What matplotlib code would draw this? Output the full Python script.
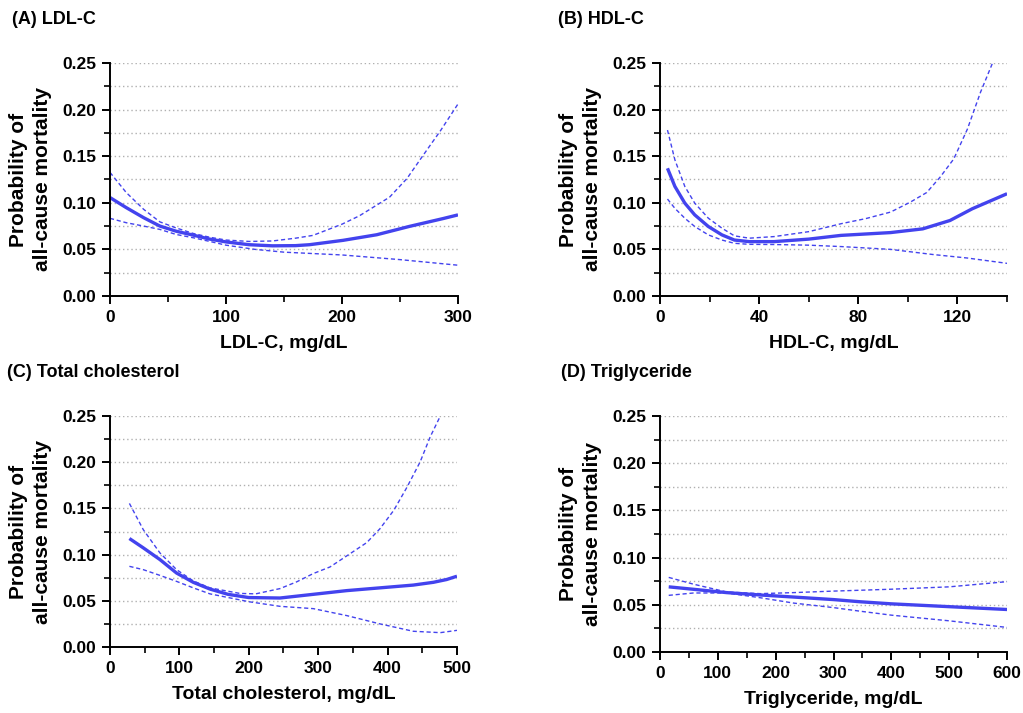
import matplotlib
matplotlib.use("Agg")
import matplotlib.pyplot as plt
from matplotlib.ticker import MultipleLocator

plt.rcParams["font.family"] = ["Liberation Sans", "DejaVu Sans"]
plt.rcParams["font.weight"] = "bold"

BLUE = "#4343ee"

# (A) LDL-C
ldl_fit_x = [0, 14, 29, 43, 57, 72, 86, 100, 120, 140, 160, 172, 201, 230, 258, 287, 300]
ldl_fit = [0.1056, 0.0948, 0.084, 0.075, 0.0695, 0.0652, 0.061, 0.058, 0.055, 0.0538, 0.054, 0.055, 0.0597, 0.0657, 0.0746, 0.083, 0.087]
ldl_up_x = [0, 14, 29, 43, 57, 72, 86, 100, 120, 140, 160, 175, 200, 215, 241, 256, 270, 285, 300]
ldl_up = [0.1326, 0.111, 0.093, 0.0795, 0.073, 0.067, 0.063, 0.060, 0.0585, 0.059, 0.062, 0.065, 0.077, 0.086, 0.106, 0.126, 0.151, 0.1775, 0.206]
ldl_lo_x = [0, 14, 29, 43, 57, 72, 86, 100, 125, 150, 175, 200, 225, 250, 275, 300]
ldl_lo = [0.0833, 0.0786, 0.075, 0.0714, 0.066, 0.0624, 0.0585, 0.0545, 0.050, 0.047, 0.0455, 0.044, 0.0415, 0.039, 0.036, 0.033]

# (B) HDL-C
hdl_fit_x = [3, 6, 10, 14, 19.5, 25, 30, 36, 46, 60, 73, 93, 106, 117, 126, 140]
hdl_fit = [0.137, 0.1175, 0.0996, 0.087, 0.0745, 0.0655, 0.060, 0.0583, 0.0583, 0.061, 0.065, 0.068, 0.072, 0.081, 0.0936, 0.1097]
hdl_up_x = [3, 6, 10, 14, 19.5, 25, 30, 36, 46, 60, 73, 83, 93, 101, 107.6, 113, 118.5, 124, 129.3, 134]
hdl_up = [0.178, 0.146, 0.1175, 0.0996, 0.0834, 0.0727, 0.0645, 0.062, 0.0637, 0.069, 0.0775, 0.083, 0.090, 0.1007, 0.111, 0.1275, 0.147, 0.179, 0.2186, 0.249]
hdl_lo_x = [3, 6, 10, 14, 19.5, 25, 30, 36, 46, 60, 73, 93, 110, 124, 140]
hdl_lo = [0.104, 0.094, 0.0834, 0.0745, 0.0655, 0.060, 0.0565, 0.0554, 0.0552, 0.0545, 0.053, 0.050, 0.0445, 0.0407, 0.035]

# (C) Total cholesterol
tc_fit_x = [28, 48, 72, 96, 120, 144, 170, 200, 245, 293, 341, 389, 437, 466, 485, 500]
tc_fit = [0.1174, 0.1073, 0.0946, 0.080, 0.070, 0.0627, 0.057, 0.0535, 0.053, 0.057, 0.061, 0.064, 0.067, 0.070, 0.073, 0.0766]
tc_up_x = [28, 48, 72, 96, 120, 144, 187, 210, 245, 269, 293, 317, 346, 370, 389, 409, 428, 447, 461.5, 476]
tc_up = [0.1554, 0.127, 0.1018, 0.0837, 0.0715, 0.064, 0.058, 0.0575, 0.0632, 0.0705, 0.0795, 0.0866, 0.101, 0.113, 0.128, 0.148, 0.173, 0.2005, 0.2276, 0.25]
tc_lo_x = [28, 48, 72, 96, 120, 144, 187, 200, 245, 293, 341, 389, 437, 476, 500]
tc_lo = [0.0873, 0.0837, 0.0775, 0.071, 0.064, 0.0575, 0.051, 0.049, 0.044, 0.0415, 0.034, 0.025, 0.017, 0.0155, 0.018]

# (D) Triglyceride
tg_x = [15, 58, 115, 173, 231, 300, 346, 400, 500, 600]
tg_fit = [0.069, 0.0664, 0.0629, 0.0604, 0.0582, 0.0555, 0.0532, 0.051, 0.048, 0.045]
tg_up = [0.079, 0.0718, 0.0636, 0.0618, 0.0629, 0.0645, 0.0654, 0.0665, 0.069, 0.0745]
tg_lo = [0.060, 0.0625, 0.0625, 0.0575, 0.0518, 0.047, 0.0432, 0.039, 0.033, 0.026]

panels = [
    ("(A) LDL-C", "LDL-C, mg/dL", (ldl_fit_x, ldl_fit), (ldl_up_x, ldl_up), (ldl_lo_x, ldl_lo),
     300, 100, 50, [0.1075, 0.5849, 0.3402, 0.3268], (0.012, 0.972)),
    ("(B) HDL-C", "HDL-C, mg/dL", (hdl_fit_x, hdl_fit), (hdl_up_x, hdl_up), (hdl_lo_x, hdl_lo),
     140, 40, 20, [0.6452, 0.5849, 0.3392, 0.3268], (0.545, 0.972)),
    ("(C) Total cholesterol", "Total cholesterol, mg/dL", (tc_fit_x, tc_fit), (tc_up_x, tc_up), (tc_lo_x, tc_lo),
     500, 100, 50, [0.1075, 0.0926, 0.3392, 0.3239], (0.007, 0.477)),
    ("(D) Triglyceride", "Triglyceride, mg/dL", (tg_x, tg_fit), (tg_x, tg_up), (tg_x, tg_lo),
     600, 100, 50, [0.6452, 0.0856, 0.3392, 0.3309], (0.548, 0.477)),
]

fig = plt.figure(figsize=(10.23, 7.13), dpi=100)

for title, xlab, fit, up, lo, xmax, xmaj, xmin, rect, tpos in panels:
    ax = fig.add_axes(rect)
    for g in [0.025, 0.05, 0.075, 0.1, 0.125, 0.15, 0.175, 0.2, 0.225, 0.25]:
        ax.axhline(g, color="#b0b0b0", lw=1, ls=(0, (1, 2)), zorder=0)
    ax.plot(up[0], up[1], color=BLUE, lw=1, ls=(0, (3, 2)), clip_on=False)
    ax.plot(lo[0], lo[1], color=BLUE, lw=1, ls=(0, (3, 2)))
    ax.plot(fit[0], fit[1], color=BLUE, lw=2.4, solid_capstyle="butt", solid_joinstyle="round")
    ax.set_xlim(0, xmax)
    ax.set_ylim(0, 0.25)
    ax.xaxis.set_major_locator(MultipleLocator(xmaj))
    ax.xaxis.set_minor_locator(MultipleLocator(xmin))
    ax.yaxis.set_major_locator(MultipleLocator(0.05))
    ax.yaxis.set_minor_locator(MultipleLocator(0.025))
    ax.yaxis.set_major_formatter(plt.FuncFormatter(lambda v, p: f"{v:.2f}"))
    for s in ["top", "right"]:
        ax.spines[s].set_visible(False)
    for s in ["left", "bottom"]:
        ax.spines[s].set_linewidth(1.4)
    ax.tick_params(which="major", length=6, width=1.4, labelsize=12.5, pad=4)
    ax.tick_params(which="minor", length=4, width=1.2)
    ax.set_xlabel(xlab, fontsize=14, fontweight="bold", labelpad=7)
    ax.set_ylabel("Probability of\nall-cause mortality", fontsize=15, fontweight="bold",
                  labelpad=7, linespacing=1.35)
    fig.text(tpos[0], tpos[1], title, fontsize=13, fontweight="bold", ha="left", va="center")

fig.savefig("out.png", dpi=100)
